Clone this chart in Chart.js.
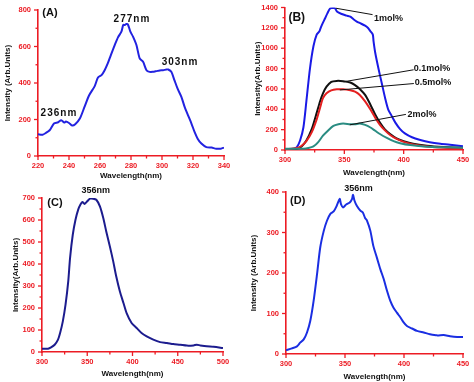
<!DOCTYPE html>
<html><head><meta charset="utf-8">
<script src="https://cdn.jsdelivr.net/npm/chart.js@4"></script>
<style>
html,body{margin:0;padding:0;background:#fff;}
body{width:474px;height:382px;position:relative;overflow:hidden;}
canvas{position:absolute;}
</style></head><body>
<canvas id="cA" width="237" height="191" style="left:0;top:0"></canvas>
<canvas id="cB" width="237" height="191" style="left:237px;top:0"></canvas>
<canvas id="cC" width="237" height="202" style="left:0;top:180px"></canvas>
<canvas id="cD" width="237" height="202" style="left:237px;top:180px"></canvas>
<script>
// ---------- Panel A: excitation spectrum ----------
const aWave = [220,223,225,227.5,230.3,233,235,237,238,240,242,244,247,250,253,256.6,258.7,261,263,265,267,269.5,271.6,273.8,275,276,277,278,279.6,281.3,283.5,285.6,287.8,290,292,294,296.4,298.5,300.7,302.8,304,306,308,310,312.5,314.6,316.8,319,321,323,325.4,328.6,332,335,338,340];
const aInt  = [119,117,126,141,178,185,196,183,189,181,167,174,205,269,333,383,430,443,470,507,553,608,650,681,718,718,723,721,681,654,608,535,516,470,461,461,465,469,470,474,474,461,416,370,324,269,223,178,132,95,68,49,46,40,40,46];
const aXTicks = [220,240,260,280,300,320,340];
const aYTicks = [0,200,400,600,800];

// ---------- Panel B: emission for concentrations ----------
const bWave1 = [300,307,310,312.7,315.5,318,321,324,326.7,329,330,331.8,333.8,335.7,338,340.8,342,344,347.8,352,355,357.7,360.5,363.3,367.5,370,372,374,374.6,376,378.8,381.6,384.4,387,390,393,397,401,407,414,422,431,439,450];
const bInt1  = [6,13,29,93,221,477,798,1022,1134,1166,1198,1246,1294,1342,1391,1394,1394,1358,1336,1320,1310,1285,1262,1246,1221,1198,1166,1134,1070,958,798,654,509,397,333,269,205,163,125,99,77,61,51,38];
const bWave01 = [300,310,314,318,322.5,326.7,329.5,332,335,339,343.6,349,355,359,363,367.5,372,376,380,384,388.6,394,400,408,419.6,433.7,450];
const bInt01  = [6,13,35,93,205,365,477,557,622,670,679,676,663,638,599,541,445,349,269,205,157,115,87,61,42,29,19];
const bWave05 = [300,310,314,318,322.5,326.7,329.5,332,335,339,343.6,349,355,359,363,367.5,372,376,380,384,388.6,394,400,408,419.6,433.7,450];
const bInt05  = [6,19,42,87,173,301,413,509,557,586,596,596,586,573,541,477,397,317,247,195,147,109,80,54,35,22,16];
const bWave2 = [300,315.5,319.7,324,328,332,336.6,340.8,345,349,355,359,363,367.5,372,376,380,385.8,391.5,397,405.5,416.8,433.7,450];
const bInt2  = [13,13,19,35,77,141,195,237,253,260,253,253,260,247,221,189,157,119,87,67,48,35,26,22];
const bSeries = ['1mol%','0.1mol%','0.5mol%','2mol%'];
const bXTicks = [300,350,400,450];
const bYTicks = [0,200,400,600,800,1000,1200,1400];

// ---------- Panel C ----------
const cWave = [300,306.7,310,314,317.7,320,323,326,329,331,334,337,340,342.5,344.7,347,350,353,356.6,360,364,367.7,371,375,378.7,382,386,390,393.5,399,404.6,410,415.7,423,430.5,438,445,452.7,460,467.5,471,475,482,489.7,500];
const cInt  = [15,15,21,33,56,86,139,215,321,427,533,601,647,670,682,673,685,697,697,692,662,609,548,480,412,344,276,223,177,132,109,86,71,56,45,41,36,33,29,30,33,30,26,24,18];
const cXTicks = [300,350,400,450,500];
const cYTicks = [0,100,200,300,400,500,600,700];

// ---------- Panel D ----------
const dWave = [300,305,309.3,312,315,317.8,320.6,323.4,326.3,329,332,334.7,337.6,340.4,343,345.5,346.6,348.3,351,354,356,356.8,358,360,363,365,367,368.7,371.5,374,377,380,382.8,385.6,388.4,391,394,397,399.7,402.5,406.8,411,416.7,422,428,433.6,439,445,450];
const dInt  = [9,14,19,28,36,53,82,131,197,263,304,329,346,352,366,383,370,362,369,374,383,393,379,366,354,350,336,329,304,267,238,209,185,156,131,115,102,90,78,69,63,57,53,49,46,47,44,42,42];
const dXTicks = [300,350,400,450];
const dYTicks = [0,100,200,300,400];

const RED = '#ec1c24';
const FONT = "'Liberation Sans', Arial, sans-serif";

function pts(xs, ys){ return xs.map((x,i)=>({x:x, y:ys[i]})); }

const decoPlugin = {
  id: 'deco',
  afterDraw(chart, args, opts){
    const ctx = chart.ctx, xs = chart.scales.x, ys = chart.scales.y, ca = chart.chartArea;
    ctx.save();
    ctx.strokeStyle = RED; ctx.lineWidth = 1.3;
    xs.ticks.forEach(t => {
      const px = xs.getPixelForValue(t.value);
      const len = opts.xMajor.includes(t.value) ? 4 : 2.5;
      ctx.beginPath(); ctx.moveTo(px, ca.bottom); ctx.lineTo(px, ca.bottom + len); ctx.stroke();
    });
    ys.ticks.forEach(t => {
      const py = ys.getPixelForValue(t.value);
      const len = opts.yMajor.includes(t.value) ? 4 : 2.5;
      ctx.beginPath(); ctx.moveTo(ca.left, py); ctx.lineTo(ca.left - len, py); ctx.stroke();
    });
    ctx.strokeStyle = '#111'; ctx.lineWidth = 1;
    (opts.leaders || []).forEach(l => {
      ctx.beginPath();
      ctx.moveTo(xs.getPixelForValue(l[0]), ys.getPixelForValue(l[1]));
      ctx.lineTo(xs.getPixelForValue(l[2]), ys.getPixelForValue(l[3]));
      ctx.stroke();
    });
    ctx.fillStyle = '#111'; ctx.textAlign = 'center'; ctx.textBaseline = 'middle';
    (opts.texts || []).forEach(t => {
      ctx.font = 'bold ' + t.size + 'px ' + FONT;
      ctx.letterSpacing = (t.spacing || 0) + 'px';
      ctx.fillText(t.text, xs.getPixelForValue(t.x), ys.getPixelForValue(t.y));
    });
    ctx.restore();
  }
};

function makeChart(id, o){
  new Chart(document.getElementById(id), {
    type: 'line',
    data: { datasets: o.datasets.map(d => ({
      label: d.label, data: d.data, borderColor: d.color, borderWidth: 2,
      pointRadius: 0, tension: 0.25, fill: false
    })) },
    options: {
      responsive: false, animation: false, devicePixelRatio: 1,
      layout: { padding: { left: 0, right: o.padRight, top: o.padTop, bottom: 0 } },
      plugins: { legend: { display: false }, tooltip: { enabled: false },
        deco: { xMajor: o.xLabels, yMajor: o.yLabels, texts: o.texts, leaders: o.leaders } },
      scales: {
        x: {
          type: 'linear', min: o.xMin, max: o.xMax,
          afterFit: s => { s.height = o.xHeight; },
          grid: { display: true, drawOnChartArea: false, drawTicks: true, tickLength: 4, color: 'rgba(0,0,0,0)' },
          border: { display: true, color: RED, width: 1.6 },
          ticks: { stepSize: o.xStep, autoSkip: false, maxRotation: 0, padding: 1, color: RED,
            font: { family: FONT, size: 7.5, weight: 'bold' },
            callback: v => o.xLabels.includes(v) ? String(v) : '' },
          title: { display: true, text: 'Wavelength(nm)', color: '#111',
            font: { family: FONT, size: 8, weight: 'bold' }, padding: { top: 0, bottom: o.xTitlePad } }
        },
        y: {
          type: 'linear', min: o.yMin, max: o.yMax,
          afterFit: s => { s.width = o.yWidth; },
          grid: { display: true, drawOnChartArea: false, drawTicks: true, tickLength: 4, color: 'rgba(0,0,0,0)' },
          border: { display: true, color: RED, width: 1.6 },
          ticks: { stepSize: o.yStep, autoSkip: false, padding: 3, color: RED,
            font: { family: FONT, size: 7.5, weight: 'bold' },
            callback: v => o.yLabels.includes(v) ? String(v) : '' },
          title: { display: true, text: o.yTitle, color: '#111',
            font: { family: FONT, size: 8, weight: 'bold' }, padding: { top: o.yTitlePad, bottom: 0 } }
        }
      }
    },
    plugins: [decoPlugin]
  });
}

makeChart('cA', {
  datasets: [{ label: 'A', data: pts(aWave, aInt), color: '#2222e0' }],
  xMin: 220, xMax: 340, xStep: 10, xLabels: aXTicks,
  yMin: 0, yMax: 800, yStep: 100, yLabels: aYTicks,
  yTitle: 'Intensity (Arb.Units)',
  padRight: 13, padTop: 10, yWidth: 38, xHeight: 35, xTitlePad: 10, yTitlePad: 3,
  texts: [
    { text: '(A)', x: 227.7, y: 784, size: 11 },
    { text: '277nm', x: 280.6, y: 749, size: 10, spacing: 1 },
    { text: '303nm', x: 311.6, y: 515, size: 10, spacing: 1 },
    { text: '236nm', x: 233.5, y: 236, size: 10, spacing: 1 }
  ],
  leaders: []
});

makeChart('cB', {
  datasets: [
    { label: bSeries[3], data: pts(bWave2, bInt2), color: '#2a8c82' },
    { label: bSeries[2], data: pts(bWave05, bInt05), color: '#e42020' },
    { label: bSeries[1], data: pts(bWave01, bInt01), color: '#111111' },
    { label: bSeries[0], data: pts(bWave1, bInt1), color: '#1a1ae6' }
  ],
  xMin: 300, xMax: 450, xStep: 25, xLabels: bXTicks,
  yMin: 0, yMax: 1400, yStep: 100, yLabels: bYTicks,
  yTitle: 'Intensity(Arb.Units)',
  padRight: 11, padTop: 4, yWidth: 48, xHeight: 41, xTitlePad: 13, yTitlePad: 15.5,
  texts: [
    { text: '(B)', x: 309.9, y: 1304, size: 12 },
    { text: bSeries[0], x: 387.3, y: 1294, size: 9 },
    { text: bSeries[1], x: 423.8, y: 804, size: 9 },
    { text: bSeries[2], x: 424.7, y: 660, size: 9 },
    { text: bSeries[3], x: 415.4, y: 353, size: 9 }
  ],
  leaders: [
    [373.8, 1330, 342.8, 1393],
    [408.4, 788, 349.3, 670],
    [408.6, 653, 346.2, 590],
    [401.9, 350, 354.6, 247]
  ]
});

makeChart('cC', {
  datasets: [{ label: 'C', data: pts(cWave, cInt), color: '#1c1c8e' }],
  xMin: 300, xMax: 500, xStep: 25, xLabels: cXTicks,
  yMin: 0, yMax: 700, yStep: 50, yLabels: cYTicks,
  yTitle: 'Intensity(Arb.Units)',
  padRight: 14, padTop: 18, yWidth: 42, xHeight: 30, xTitlePad: 3, yTitlePad: 10.5,
  texts: [
    { text: '(C)', x: 314.3, y: 676, size: 11 },
    { text: '356nm', x: 359.5, y: 735, size: 9 }
  ],
  leaders: []
});

makeChart('cD', {
  datasets: [{ label: 'D', data: pts(dWave, dInt), color: '#1a2ee2' }],
  xMin: 300, xMax: 450, xStep: 25, xLabels: dXTicks,
  yMin: 0, yMax: 400, yStep: 50, yLabels: dYTicks,
  yTitle: 'Intensity (Arb.Units)',
  padRight: 11, padTop: 12, yWidth: 49, xHeight: 28, xTitlePad: 0, yTitlePad: 12,
  texts: [
    { text: '(D)', x: 309.9, y: 378, size: 11 },
    { text: '356nm', x: 361.4, y: 408, size: 9 }
  ],
  leaders: []
});
</script>
</body></html>
